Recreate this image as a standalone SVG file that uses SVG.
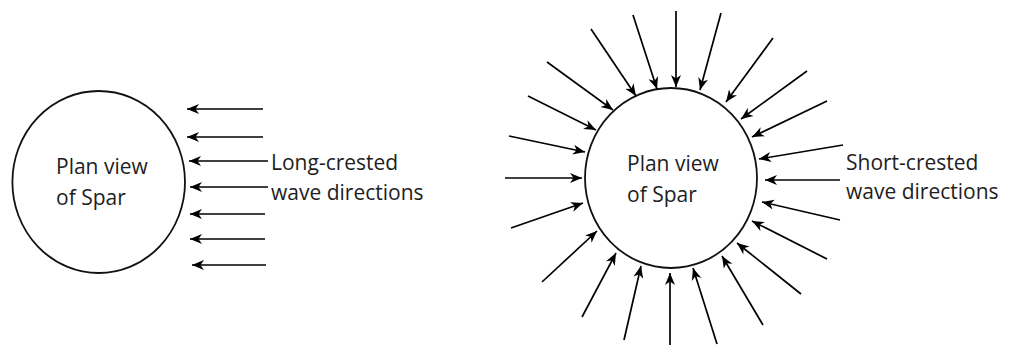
<svg xmlns="http://www.w3.org/2000/svg" width="1016" height="345" viewBox="0 0 1016 345">
<defs>
<marker id="ah" markerUnits="userSpaceOnUse" markerWidth="13" markerHeight="11" refX="12" refY="5.5" orient="auto" viewBox="0 0 13 11">
<path d="M0,0.5 L12,5.5 L0,10.5 L3.5,5.5 z" fill="#000"/>
</marker>
<style>
.spar{fill:none;stroke:#111;stroke-width:1.8}
.arr{stroke:#000;stroke-width:1.7;fill:none;marker-end:url(#ah)}
.t{font-family:"Open Sans","DejaVu Sans",sans-serif;font-size:21px;fill:#1e1e1e}
</style>
</defs>
<rect width="1016" height="345" fill="#fff"/>
<g id="spar-left">
<ellipse class="spar" cx="98.7" cy="182" rx="86.3" ry="91"/>
<text class="t" x="56" y="174">Plan view</text>
<text class="t" x="56" y="205">of Spar</text>
</g>
<g id="label-long">
<text class="t" x="271" y="170">Long-crested</text>
<text class="t" x="271" y="200">wave directions</text>
</g>
<g id="spar-right">
<ellipse class="spar" cx="671" cy="178" rx="86" ry="90"/>
<text class="t" x="627" y="171">Plan view</text>
<text class="t" x="627" y="202">of Spar</text>
</g>
<g id="label-short">
<text class="t" x="846" y="170">Short-crested</text>
<text class="t" x="846" y="199">wave directions</text>
</g>
<g id="connectors">
<line class="arr" x1="263" y1="109" x2="187" y2="109"/>
<line class="arr" x1="263" y1="137" x2="187" y2="137"/>
<line class="arr" x1="268" y1="161" x2="189" y2="161"/>
<line class="arr" x1="268" y1="187" x2="190" y2="187"/>
<line class="arr" x1="265" y1="214" x2="190" y2="214"/>
<line class="arr" x1="265" y1="239" x2="190" y2="239"/>
<line class="arr" x1="266" y1="265" x2="192" y2="265"/>

<line class="arr" x1="676" y1="11" x2="676" y2="87"/>
<line class="arr" x1="721" y1="13" x2="700" y2="90"/>
<line class="arr" x1="773" y1="38" x2="726" y2="102"/>
<line class="arr" x1="807" y1="71" x2="741" y2="119"/>
<line class="arr" x1="827" y1="101" x2="752" y2="137"/>
<line class="arr" x1="843" y1="145" x2="759" y2="159"/>
<line class="arr" x1="840" y1="180" x2="765" y2="180"/>
<line class="arr" x1="840" y1="220" x2="762" y2="202"/>
<line class="arr" x1="827" y1="259" x2="752" y2="221"/>
<line class="arr" x1="801" y1="294" x2="737" y2="243"/>
<line class="arr" x1="763" y1="325" x2="722" y2="256"/>
<line class="arr" x1="717" y1="344" x2="693" y2="268"/>
<line class="arr" x1="670" y1="345" x2="670" y2="273"/>
<line class="arr" x1="624" y1="340" x2="641" y2="266"/>
<line class="arr" x1="582" y1="317" x2="616" y2="253"/>
<line class="arr" x1="542" y1="282" x2="597" y2="231"/>
<line class="arr" x1="511" y1="228" x2="583" y2="203"/>
<line class="arr" x1="505" y1="178" x2="582" y2="178"/>
<line class="arr" x1="509" y1="136" x2="585" y2="152"/>
<line class="arr" x1="528" y1="96" x2="596" y2="130"/>
<line class="arr" x1="547" y1="62" x2="613" y2="110"/>
<line class="arr" x1="591" y1="29" x2="636" y2="96"/>
<line class="arr" x1="633" y1="15" x2="657" y2="89"/>
</g>
</svg>
